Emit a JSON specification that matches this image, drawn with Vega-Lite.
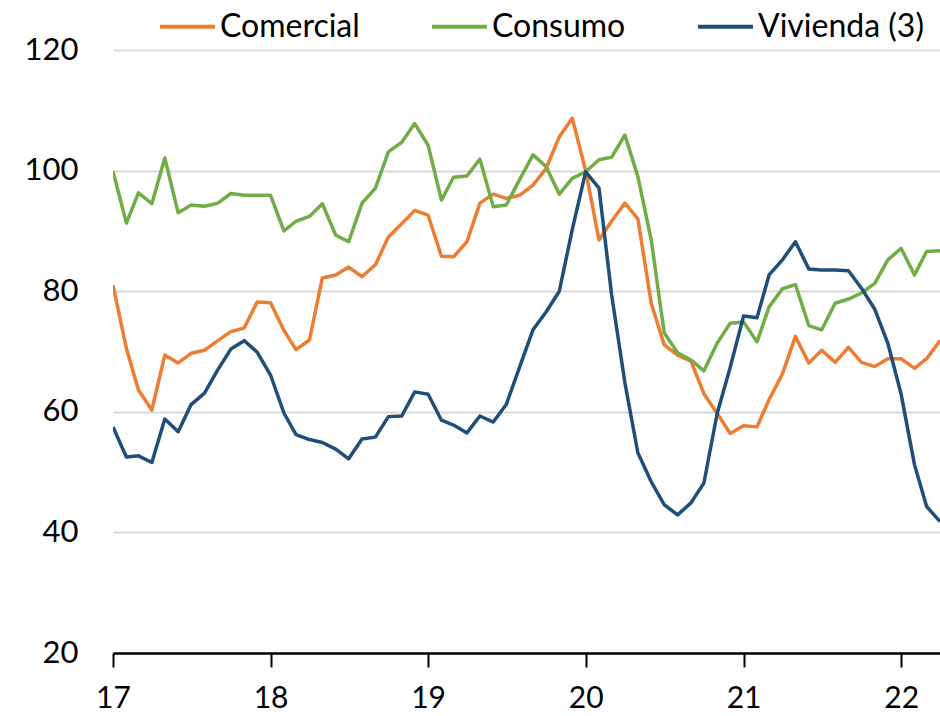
{
  "$schema": "https://vega.github.io/schema/vega-lite/v6.json",
  "width": 827,
  "height": 603,
  "autosize": {"type": "none"},
  "padding": {"left": 113, "top": 50, "right": 0, "bottom": 63},
  "config": {
    "font": "Lato",
    "view": {"stroke": null},
    "axis": {"labelColor": "#000000", "labelFont": "Lato"},
    "legend": {"labelFont": "Lato"}
  },
  "data": {
    "values": [
      {"date":"2017/01/01","serie":"Comercial","value":81.0},
      {"date":"2017/02/01","serie":"Comercial","value":70.5},
      {"date":"2017/03/01","serie":"Comercial","value":63.6},
      {"date":"2017/04/01","serie":"Comercial","value":60.3},
      {"date":"2017/05/01","serie":"Comercial","value":69.4},
      {"date":"2017/06/01","serie":"Comercial","value":68.1},
      {"date":"2017/07/01","serie":"Comercial","value":69.7},
      {"date":"2017/08/01","serie":"Comercial","value":70.2},
      {"date":"2017/09/01","serie":"Comercial","value":71.8},
      {"date":"2017/10/01","serie":"Comercial","value":73.3},
      {"date":"2017/11/01","serie":"Comercial","value":73.9},
      {"date":"2017/12/01","serie":"Comercial","value":78.2},
      {"date":"2018/01/01","serie":"Comercial","value":78.1},
      {"date":"2018/02/01","serie":"Comercial","value":73.5},
      {"date":"2018/03/01","serie":"Comercial","value":70.3},
      {"date":"2018/04/01","serie":"Comercial","value":71.9},
      {"date":"2018/05/01","serie":"Comercial","value":82.2},
      {"date":"2018/06/01","serie":"Comercial","value":82.7},
      {"date":"2018/07/01","serie":"Comercial","value":84.0},
      {"date":"2018/08/01","serie":"Comercial","value":82.4},
      {"date":"2018/09/01","serie":"Comercial","value":84.4},
      {"date":"2018/10/01","serie":"Comercial","value":89.0},
      {"date":"2018/11/01","serie":"Comercial","value":91.2},
      {"date":"2018/12/01","serie":"Comercial","value":93.4},
      {"date":"2019/01/01","serie":"Comercial","value":92.6},
      {"date":"2019/02/01","serie":"Comercial","value":85.8},
      {"date":"2019/03/01","serie":"Comercial","value":85.7},
      {"date":"2019/04/01","serie":"Comercial","value":88.2},
      {"date":"2019/05/01","serie":"Comercial","value":94.6},
      {"date":"2019/06/01","serie":"Comercial","value":96.1},
      {"date":"2019/07/01","serie":"Comercial","value":95.4},
      {"date":"2019/08/01","serie":"Comercial","value":95.9},
      {"date":"2019/09/01","serie":"Comercial","value":97.6},
      {"date":"2019/10/01","serie":"Comercial","value":100.3},
      {"date":"2019/11/01","serie":"Comercial","value":105.6},
      {"date":"2019/12/01","serie":"Comercial","value":108.7},
      {"date":"2020/01/01","serie":"Comercial","value":100.0},
      {"date":"2020/02/01","serie":"Comercial","value":88.5},
      {"date":"2020/03/01","serie":"Comercial","value":91.6},
      {"date":"2020/04/01","serie":"Comercial","value":94.6},
      {"date":"2020/05/01","serie":"Comercial","value":92.0},
      {"date":"2020/06/01","serie":"Comercial","value":78.0},
      {"date":"2020/07/01","serie":"Comercial","value":71.1},
      {"date":"2020/08/01","serie":"Comercial","value":69.4},
      {"date":"2020/09/01","serie":"Comercial","value":68.4},
      {"date":"2020/10/01","serie":"Comercial","value":63.0},
      {"date":"2020/11/01","serie":"Comercial","value":59.7},
      {"date":"2020/12/01","serie":"Comercial","value":56.4},
      {"date":"2021/01/01","serie":"Comercial","value":57.7},
      {"date":"2021/02/01","serie":"Comercial","value":57.5},
      {"date":"2021/03/01","serie":"Comercial","value":62.0},
      {"date":"2021/04/01","serie":"Comercial","value":66.3},
      {"date":"2021/05/01","serie":"Comercial","value":72.5},
      {"date":"2021/06/01","serie":"Comercial","value":68.1},
      {"date":"2021/07/01","serie":"Comercial","value":70.2},
      {"date":"2021/08/01","serie":"Comercial","value":68.2},
      {"date":"2021/09/01","serie":"Comercial","value":70.7},
      {"date":"2021/10/01","serie":"Comercial","value":68.2},
      {"date":"2021/11/01","serie":"Comercial","value":67.5},
      {"date":"2021/12/01","serie":"Comercial","value":68.8},
      {"date":"2022/01/01","serie":"Comercial","value":68.8},
      {"date":"2022/02/01","serie":"Comercial","value":67.2},
      {"date":"2022/03/01","serie":"Comercial","value":68.8},
      {"date":"2022/04/01","serie":"Comercial","value":71.8},
      {"date":"2017/01/01","serie":"Consumo","value":99.9},
      {"date":"2017/02/01","serie":"Consumo","value":91.3},
      {"date":"2017/03/01","serie":"Consumo","value":96.3},
      {"date":"2017/04/01","serie":"Consumo","value":94.5},
      {"date":"2017/05/01","serie":"Consumo","value":102.1},
      {"date":"2017/06/01","serie":"Consumo","value":93.0},
      {"date":"2017/07/01","serie":"Consumo","value":94.3},
      {"date":"2017/08/01","serie":"Consumo","value":94.1},
      {"date":"2017/09/01","serie":"Consumo","value":94.6},
      {"date":"2017/10/01","serie":"Consumo","value":96.2},
      {"date":"2017/11/01","serie":"Consumo","value":95.9},
      {"date":"2017/12/01","serie":"Consumo","value":95.9},
      {"date":"2018/01/01","serie":"Consumo","value":95.9},
      {"date":"2018/02/01","serie":"Consumo","value":90.0},
      {"date":"2018/03/01","serie":"Consumo","value":91.6},
      {"date":"2018/04/01","serie":"Consumo","value":92.4},
      {"date":"2018/05/01","serie":"Consumo","value":94.5},
      {"date":"2018/06/01","serie":"Consumo","value":89.3},
      {"date":"2018/07/01","serie":"Consumo","value":88.2},
      {"date":"2018/08/01","serie":"Consumo","value":94.6},
      {"date":"2018/09/01","serie":"Consumo","value":97.1},
      {"date":"2018/10/01","serie":"Consumo","value":103.1},
      {"date":"2018/11/01","serie":"Consumo","value":104.7},
      {"date":"2018/12/01","serie":"Consumo","value":107.8},
      {"date":"2019/01/01","serie":"Consumo","value":104.2},
      {"date":"2019/02/01","serie":"Consumo","value":95.1},
      {"date":"2019/03/01","serie":"Consumo","value":98.9},
      {"date":"2019/04/01","serie":"Consumo","value":99.1},
      {"date":"2019/05/01","serie":"Consumo","value":101.9},
      {"date":"2019/06/01","serie":"Consumo","value":94.0},
      {"date":"2019/07/01","serie":"Consumo","value":94.3},
      {"date":"2019/08/01","serie":"Consumo","value":98.5},
      {"date":"2019/09/01","serie":"Consumo","value":102.6},
      {"date":"2019/10/01","serie":"Consumo","value":100.7},
      {"date":"2019/11/01","serie":"Consumo","value":96.1},
      {"date":"2019/12/01","serie":"Consumo","value":98.7},
      {"date":"2020/01/01","serie":"Consumo","value":99.8},
      {"date":"2020/02/01","serie":"Consumo","value":101.8},
      {"date":"2020/03/01","serie":"Consumo","value":102.2},
      {"date":"2020/04/01","serie":"Consumo","value":105.9},
      {"date":"2020/05/01","serie":"Consumo","value":99.0},
      {"date":"2020/06/01","serie":"Consumo","value":88.5},
      {"date":"2020/07/01","serie":"Consumo","value":73.1},
      {"date":"2020/08/01","serie":"Consumo","value":69.8},
      {"date":"2020/09/01","serie":"Consumo","value":68.6},
      {"date":"2020/10/01","serie":"Consumo","value":66.8},
      {"date":"2020/11/01","serie":"Consumo","value":71.4},
      {"date":"2020/12/01","serie":"Consumo","value":74.7},
      {"date":"2021/01/01","serie":"Consumo","value":74.9},
      {"date":"2021/02/01","serie":"Consumo","value":71.6},
      {"date":"2021/03/01","serie":"Consumo","value":77.4},
      {"date":"2021/04/01","serie":"Consumo","value":80.4},
      {"date":"2021/05/01","serie":"Consumo","value":81.1},
      {"date":"2021/06/01","serie":"Consumo","value":74.3},
      {"date":"2021/07/01","serie":"Consumo","value":73.6},
      {"date":"2021/08/01","serie":"Consumo","value":78.0},
      {"date":"2021/09/01","serie":"Consumo","value":78.7},
      {"date":"2021/10/01","serie":"Consumo","value":79.7},
      {"date":"2021/11/01","serie":"Consumo","value":81.3},
      {"date":"2021/12/01","serie":"Consumo","value":85.2},
      {"date":"2022/01/01","serie":"Consumo","value":87.1},
      {"date":"2022/02/01","serie":"Consumo","value":82.7},
      {"date":"2022/03/01","serie":"Consumo","value":86.6},
      {"date":"2022/04/01","serie":"Consumo","value":86.7},
      {"date":"2017/01/01","serie":"Vivienda (3)","value":57.5},
      {"date":"2017/02/01","serie":"Vivienda (3)","value":52.5},
      {"date":"2017/03/01","serie":"Vivienda (3)","value":52.7},
      {"date":"2017/04/01","serie":"Vivienda (3)","value":51.6},
      {"date":"2017/05/01","serie":"Vivienda (3)","value":58.8},
      {"date":"2017/06/01","serie":"Vivienda (3)","value":56.7},
      {"date":"2017/07/01","serie":"Vivienda (3)","value":61.2},
      {"date":"2017/08/01","serie":"Vivienda (3)","value":63.1},
      {"date":"2017/09/01","serie":"Vivienda (3)","value":67.0},
      {"date":"2017/10/01","serie":"Vivienda (3)","value":70.4},
      {"date":"2017/11/01","serie":"Vivienda (3)","value":71.8},
      {"date":"2017/12/01","serie":"Vivienda (3)","value":69.9},
      {"date":"2018/01/01","serie":"Vivienda (3)","value":66.1},
      {"date":"2018/02/01","serie":"Vivienda (3)","value":59.8},
      {"date":"2018/03/01","serie":"Vivienda (3)","value":56.2},
      {"date":"2018/04/01","serie":"Vivienda (3)","value":55.4},
      {"date":"2018/05/01","serie":"Vivienda (3)","value":54.9},
      {"date":"2018/06/01","serie":"Vivienda (3)","value":53.8},
      {"date":"2018/07/01","serie":"Vivienda (3)","value":52.2},
      {"date":"2018/08/01","serie":"Vivienda (3)","value":55.5},
      {"date":"2018/09/01","serie":"Vivienda (3)","value":55.8},
      {"date":"2018/10/01","serie":"Vivienda (3)","value":59.2},
      {"date":"2018/11/01","serie":"Vivienda (3)","value":59.3},
      {"date":"2018/12/01","serie":"Vivienda (3)","value":63.3},
      {"date":"2019/01/01","serie":"Vivienda (3)","value":62.9},
      {"date":"2019/02/01","serie":"Vivienda (3)","value":58.6},
      {"date":"2019/03/01","serie":"Vivienda (3)","value":57.8},
      {"date":"2019/04/01","serie":"Vivienda (3)","value":56.5},
      {"date":"2019/05/01","serie":"Vivienda (3)","value":59.3},
      {"date":"2019/06/01","serie":"Vivienda (3)","value":58.3},
      {"date":"2019/07/01","serie":"Vivienda (3)","value":61.2},
      {"date":"2019/08/01","serie":"Vivienda (3)","value":67.4},
      {"date":"2019/09/01","serie":"Vivienda (3)","value":73.6},
      {"date":"2019/10/01","serie":"Vivienda (3)","value":76.5},
      {"date":"2019/11/01","serie":"Vivienda (3)","value":80.0},
      {"date":"2019/12/01","serie":"Vivienda (3)","value":90.2},
      {"date":"2020/01/01","serie":"Vivienda (3)","value":99.8},
      {"date":"2020/02/01","serie":"Vivienda (3)","value":97.1},
      {"date":"2020/03/01","serie":"Vivienda (3)","value":79.5},
      {"date":"2020/04/01","serie":"Vivienda (3)","value":64.8},
      {"date":"2020/05/01","serie":"Vivienda (3)","value":53.2},
      {"date":"2020/06/01","serie":"Vivienda (3)","value":48.4},
      {"date":"2020/07/01","serie":"Vivienda (3)","value":44.6},
      {"date":"2020/08/01","serie":"Vivienda (3)","value":42.9},
      {"date":"2020/09/01","serie":"Vivienda (3)","value":44.9},
      {"date":"2020/10/01","serie":"Vivienda (3)","value":48.2},
      {"date":"2020/11/01","serie":"Vivienda (3)","value":59.8},
      {"date":"2020/12/01","serie":"Vivienda (3)","value":67.4},
      {"date":"2021/01/01","serie":"Vivienda (3)","value":75.9},
      {"date":"2021/02/01","serie":"Vivienda (3)","value":75.6},
      {"date":"2021/03/01","serie":"Vivienda (3)","value":82.7},
      {"date":"2021/04/01","serie":"Vivienda (3)","value":85.2},
      {"date":"2021/05/01","serie":"Vivienda (3)","value":88.2},
      {"date":"2021/06/01","serie":"Vivienda (3)","value":83.7},
      {"date":"2021/07/01","serie":"Vivienda (3)","value":83.5},
      {"date":"2021/08/01","serie":"Vivienda (3)","value":83.5},
      {"date":"2021/09/01","serie":"Vivienda (3)","value":83.4},
      {"date":"2021/10/01","serie":"Vivienda (3)","value":80.5},
      {"date":"2021/11/01","serie":"Vivienda (3)","value":77.0},
      {"date":"2021/12/01","serie":"Vivienda (3)","value":71.4},
      {"date":"2022/01/01","serie":"Vivienda (3)","value":62.9},
      {"date":"2022/02/01","serie":"Vivienda (3)","value":51.2},
      {"date":"2022/03/01","serie":"Vivienda (3)","value":44.3},
      {"date":"2022/04/01","serie":"Vivienda (3)","value":41.8}
    ]
  },
  "mark": {"type": "line", "strokeWidth": 3.5, "clip": true, "strokeJoin": "round"},
  "encoding": {
    "x": {
      "field": "date",
      "type": "temporal",
      "scale": {"domain": [{"year": 2017, "month": 1, "date": 1}, {"year": 2022, "month": 4, "date": 1}]},
      "axis": {
        "title": null,
        "format": "%y",
        "tickCount": {"interval": "year", "step": 1},
        "grid": false,
        "domainColor": "#000000",
        "domainWidth": 2.5,
        "tickColor": "#000000",
        "tickWidth": 2,
        "tickSize": 14,
        "labelPadding": 16,
        "labelFontSize": 30,
        "labelFlush": false
      }
    },
    "y": {
      "field": "value",
      "type": "quantitative",
      "scale": {"domain": [20, 120], "nice": false, "zero": false},
      "axis": {
        "title": null,
        "values": [20, 40, 60, 80, 100, 120],
        "domain": false,
        "ticks": false,
        "grid": true,
        "gridColor": "#d9d9d9",
        "gridWidth": 2,
        "labelPadding": 35,
        "labelFontSize": 31
      }
    },
    "color": {
      "field": "serie",
      "type": "nominal",
      "scale": {"domain": ["Comercial", "Consumo", "Vivienda (3)"], "range": ["#ED7D31", "#70AD47", "#1F4E79"]},
      "legend": {
        "title": null,
        "orient": "none",
        "legendX": 45,
        "legendY": -53,
        "direction": "horizontal",
        "columns": 3,
        "symbolType": "stroke",
        "symbolSize": 3025,
        "symbolStrokeWidth": 4,
        "labelFontSize": 32,
        "labelColor": "#000000",
        "labelOffset": 3,
        "labelLimit": 400,
        "columnPadding": 64
      }
    }
  }
}
